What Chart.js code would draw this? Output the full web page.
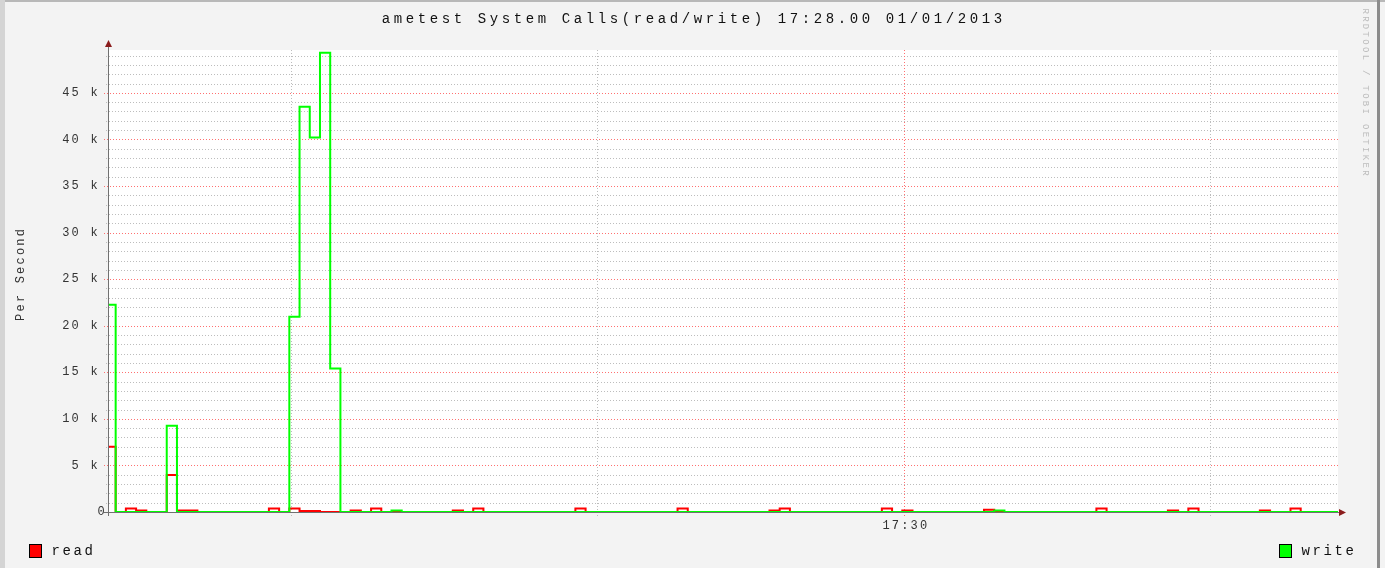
<!DOCTYPE html>
<html>
<head>
<meta charset="utf-8">
<title>ametest System Calls</title>
<script src="https://cdn.jsdelivr.net/npm/chart.js@4.4.1/dist/chart.umd.min.js"></script>
<style>
  body{margin:0;background:#f3f3f3;}
  canvas{display:block;}
</style>
</head>
<body>
<canvas id="callsChart" width="1385" height="568"></canvas>
<script>

// DATA

const titleText = "ametest System Calls(read/write) 17:28.00 01/01/2013";
const yAxisTitle = "Per Second";
const watermark = "RRDTOOL / TOBI OETIKER";
const seriesNames = ["read", "write"];
const seriesColors = ["#ff0000", "#00ff00"];

// one sample per second, times in seconds after 17:28:00
const firstSample = 41.85;
const sampleCount = 121;

// visible time window
const timeMin = 42.1;
const timeMax = 162.5;

// vertical grid (seconds after 17:28:00), 120 = 17:30
const timeGrid = [60, 90, 120, 150];
const timeMajor = [120];
const timeLabels = ["17:30"];

// only the non-zero samples, the rest are 0
const readIdx = [0, 2, 3, 6, 7, 8, 16, 18, 19, 20, 24, 26, 34, 36, 46, 56, 65, 66, 76, 78, 86, 97, 104, 106, 113, 116];
const readVal = [7000, 380, 170, 3970, 170, 170, 380, 380, 110, 110, 170, 380, 170, 380, 380, 380, 170, 380, 380, 170, 230, 380, 170, 380, 170, 380];

const writeIdx = [0, 6, 18, 19, 20, 21, 22, 28, 87];
const writeVal = [22250, 9250, 20950, 43500, 40200, 49300, 15400, 150, 150];

// y axis
const yMax = 49600;
const yMinorStep = 1000;
const yTickValues = [0, 5000, 10000, 15000, 20000, 25000, 30000, 35000, 40000, 45000];
const yTickLabels = ["0", "5 k", "10 k", "15 k", "20 k", "25 k", "30 k", "35 k", "40 k", "45 k"];

const monoFont = "'Liberation Mono', 'DejaVu Sans Mono', monospace";

// BUILD SERIES

function buildSeries(idx, val){
  const values = new Array(sampleCount + 1).fill(0);
  idx.forEach((i, n)=>{
    values[i] = val[n];
  });
  return values.map((v, i)=>({x: firstSample + i, y: v}));
}

// fixed pitch text, like rrdtool draws it
function drawMono(ctx, text, x, y, pitch, align){
  const span = (text.length - 1) * pitch;
  let start = x;
  if(align === "center") start = x - span / 2;
  if(align === "right") start = x - span;
  ctx.textAlign = "center";
  ctx.textBaseline = "middle";
  for(let i = 0; i < text.length; i++){
    ctx.fillText(text[i], start + i * pitch, y);
  }
}

function dotted(ctx, x1, y1, x2, y2, color){
  ctx.save();
  ctx.strokeStyle = color;
  ctx.lineWidth = 1;
  ctx.setLineDash([1, 2]);
  ctx.beginPath();
  ctx.moveTo(x1, y1);
  ctx.lineTo(x2, y2);
  ctx.stroke();
  ctx.restore();
}

// RRD LOOK PLUGIN

const rrdLook = {
  id: "rrdLook",

  beforeDraw(chart){
    const ctx = chart.ctx;
    const a = chart.chartArea;
    ctx.save();
    ctx.fillStyle = "#f3f3f3";
    ctx.fillRect(0, 0, chart.width, chart.height);

    // frame
    ctx.fillStyle = "#b8b8b8";
    ctx.fillRect(0, 0, chart.width, 2);
    ctx.fillStyle = "#d4d4d4";
    ctx.fillRect(0, 0, 5, chart.height);
    ctx.fillStyle = "#8c8c8c";
    ctx.fillRect(1377, 0, 3, chart.height);

    // plot background
    ctx.fillStyle = "#ffffff";
    ctx.fillRect(a.left, a.top, a.right - a.left, a.bottom - a.top);
    ctx.restore();
  },

  beforeDatasetsDraw(chart){
    const ctx = chart.ctx;
    const a = chart.chartArea;
    const xs = chart.scales.x;
    const ys = chart.scales.y;

    // horizontal grid
    for(let v = yMinorStep; v <= yMax; v += yMinorStep){
      const y = Math.round(ys.getPixelForValue(v)) + 0.5;
      if(yTickValues.includes(v)){
        dotted(ctx, a.left - 4, y, a.right, y, "#ff7070");
      }else{
        dotted(ctx, a.left - 2, y, a.right, y, "#bdbdbd");
      }
    }

    // vertical grid
    timeGrid.forEach(t=>{
      const x = Math.round(xs.getPixelForValue(t)) + 0.5;
      const color = timeMajor.includes(t) ? "#ff7070" : "#bdbdbd";
      dotted(ctx, x, a.top, x, a.bottom + 4, color);
    });
  },

  afterDatasetsDraw(chart){
    const ctx = chart.ctx;
    const a = chart.chartArea;
    const xs = chart.scales.x;
    const ys = chart.scales.y;

    ctx.save();

    // axes
    const x0 = Math.round(a.left) + 0.5;
    const y0 = Math.round(ys.getPixelForValue(0)) + 0.5;
    ctx.strokeStyle = "#707070";
    ctx.lineWidth = 1;
    ctx.beginPath();
    ctx.moveTo(x0, a.bottom + 4);
    ctx.lineTo(x0, a.top - 4);
    ctx.moveTo(a.left - 4, y0);
    ctx.lineTo(a.right + 2, y0);
    ctx.stroke();

    // arrows
    ctx.fillStyle = "#8b1c1c";
    ctx.beginPath();
    ctx.moveTo(x0, a.top - 10);
    ctx.lineTo(x0 - 3.5, a.top - 3);
    ctx.lineTo(x0 + 3.5, a.top - 3);
    ctx.closePath();
    ctx.fill();
    ctx.beginPath();
    ctx.moveTo(a.right + 8, y0);
    ctx.lineTo(a.right + 1, y0 - 3.5);
    ctx.lineTo(a.right + 1, y0 + 3.5);
    ctx.closePath();
    ctx.fill();

    // y tick labels
    ctx.fillStyle = "#333333";
    ctx.font = "12px " + monoFont;
    yTickValues.forEach((v, i)=>{
      const y = ys.getPixelForValue(v);
      const lastX = v === 0 ? a.left - 7 : a.left - 14;
      drawMono(ctx, yTickLabels[i], lastX, y, 9.4, "right");
    });

    // x tick labels
    timeMajor.forEach((t, i)=>{
      drawMono(ctx, timeLabels[i], xs.getPixelForValue(t) + 1, a.bottom + 14, 9.4, "center");
    });

    // y axis title
    ctx.save();
    ctx.translate(21, 275);
    ctx.rotate(-Math.PI / 2);
    drawMono(ctx, yAxisTitle, 0, 0, 9.4, "center");
    ctx.restore();

    // title
    ctx.fillStyle = "#111111";
    ctx.font = "14px " + monoFont;
    drawMono(ctx, titleText, 692, 19, 12, "center");

    // legend
    const legendBoxes = [{x: 29, text: 51.7}, {x: 1279, text: 1301.7}];
    ctx.font = "14px " + monoFont;
    seriesNames.forEach((name, i)=>{
      const l = legendBoxes[i];
      ctx.fillStyle = seriesColors[i];
      ctx.fillRect(l.x, 544, 13, 14);
      ctx.strokeStyle = "#000000";
      ctx.lineWidth = 1;
      ctx.strokeRect(l.x + 0.5, 544.5, 12, 13);
      ctx.fillStyle = "#111111";
      drawMono(ctx, name, l.text + 4, 551, 11, "left");
    });

    // watermark
    ctx.fillStyle = "#bdbdbd";
    ctx.font = "9px " + monoFont;
    ctx.save();
    ctx.translate(1365, 92);
    ctx.rotate(Math.PI / 2);
    drawMono(ctx, watermark, 0, 0, 7.7, "center");
    ctx.restore();

    ctx.restore();
  }
};

// CHART

const ctx = document.getElementById("callsChart");

new Chart(ctx, {
  type: "line",
  data: {
    datasets: [
      {
        label: seriesNames[1],
        data: buildSeries(writeIdx, writeVal),
        borderColor: seriesColors[1],
        borderWidth: 2,
        stepped: "before",
        pointRadius: 0,
        fill: false,
        order: 0,
        clip: {left: 0, top: 2, right: 0, bottom: 2}
      },
      {
        label: seriesNames[0],
        data: buildSeries(readIdx, readVal),
        borderColor: seriesColors[0],
        borderWidth: 2,
        stepped: "before",
        pointRadius: 0,
        fill: false,
        order: 1,
        clip: {left: 0, top: 2, right: 0, bottom: 2}
      }
    ]
  },
  options: {
    responsive: false,
    animation: false,
    events: [],
    layout: {
      padding: {left: 108, right: 47, top: 50, bottom: 56}
    },
    scales: {
      x: {type: "linear", min: timeMin, max: timeMax, display: false},
      y: {type: "linear", min: 0, max: yMax, display: false}
    },
    plugins: {
      legend: {display: false},
      title: {display: false},
      tooltip: {enabled: false}
    }
  },
  plugins: [rrdLook]
});

</script>
</body>
</html>
